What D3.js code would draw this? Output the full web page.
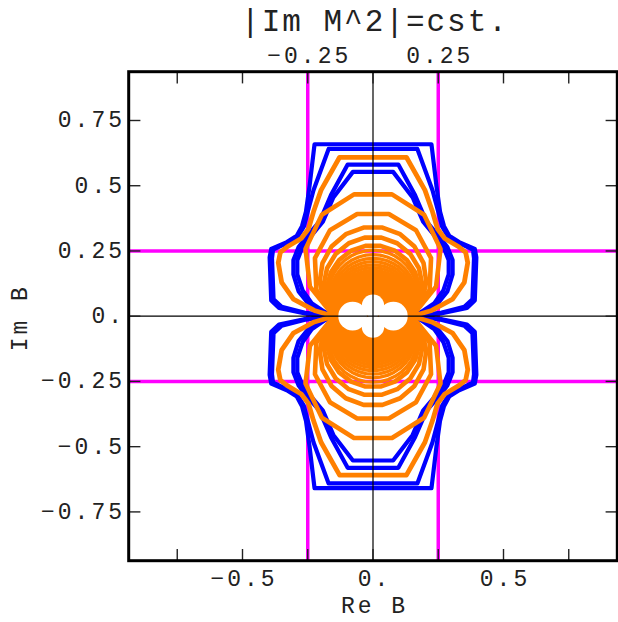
<!DOCTYPE html>
<html><head><meta charset="utf-8">
<script src="https://cdn.jsdelivr.net/npm/d3@7"></script>
<style>body{margin:0;background:#fff}svg{display:block}</style>
</head><body>
<script>
// ---------- data ----------
const xTicks = [-0.75, -0.5, -0.25, 0, 0.25, 0.5, 0.75];
const yTicks = [-0.75, -0.5, -0.25, 0, 0.25, 0.5, 0.75];
const bottomLabels = [[-0.5, "−0.5"], [0, "0."], [0.5, "0.5"]];
const leftLabels = [[0.75, "0.75"], [0.5, "0.5"], [0.25, "0.25"], [0, "0."], [-0.25, "−0.25"], [-0.5, "−0.5"], [-0.75, "−0.75"]];
const topLabels = [[-0.25, "−0.25"], [0.25, "0.25"]];
const magentaX = [-0.25, 0.25];
const magentaY = [-0.25, 0.25];

// contours, upper-right quadrant (Re B >= 0, Im B >= 0), from the Im axis to the meeting point on the Re axis
const blueB1 = [[0,0.659],[0.224,0.659],[0.243,0.50],[0.257,0.40],[0.272,0.345],[0.292,0.308],[0.33,0.284],[0.39,0.258],[0.396,0.225],[0.39,0.06],[0.36,0.032],[0.26,0.011],[0.15,0]];
const blueB2 = [[0,0.641],[0.17,0.641],[0.228,0.483],[0.25,0.40],[0.265,0.343],[0.288,0.305],[0.33,0.28],[0.383,0.255],[0.387,0.222],[0.381,0.065],[0.35,0.036],[0.26,0.013],[0.15,0]];
const blueB3 = [[0,0.581],[0.097,0.581],[0.161,0.464],[0.205,0.362],[0.25,0.31],[0.285,0.265],[0.305,0.215],[0.305,0.16],[0.285,0.095],[0.245,0.045],[0.19,0.014],[0.15,0]];
const blueB4 = [[0,0.553],[0.077,0.553],[0.152,0.455],[0.192,0.362],[0.237,0.308],[0.27,0.265],[0.29,0.215],[0.29,0.16],[0.27,0.10],[0.235,0.05],[0.185,0.016],[0.15,0]];
const orangeO1 = [[0,0.609],[0.128,0.609],[0.199,0.483],[0.228,0.40],[0.247,0.335],[0.275,0.298],[0.33,0.265],[0.355,0.245],[0.363,0.205],[0.35,0.13],[0.305,0.065],[0.225,0.022],[0.15,0]];
const blueContours = [blueB1, blueB2, blueB3, blueB4];
const orangeContours = [orangeO1];
// inner orange contours: height on the Im axis; they all pass through (±meetX, 0)
const outerInnerTops = [0.477, 0.40, 0.343, 0.304, 0.272];
const denseTops = [0.253, 0.236, 0.222, 0.209, 0.197, 0.186];
const meetX = 0.15;
const coreTop = 0.178;
// white hole in the middle: circles [Re, Im, radius]
const holeCircles = [[-0.078, 0, 0.055], [0.078, 0, 0.055], [0, 0.04, 0.043], [0, -0.04, 0.043]];

// ---------- layout ----------
const W = 618, H = 622;
const x = d3.scaleLinear().domain([-0.936, 0.936]).range([128.7, 617.3]);
const y = d3.scaleLinear().domain([-0.937, 0.937]).range([560.7, 71.7]);
const font = "'Liberation Mono','Courier New',monospace";
const BLUE = "#0000ff", ORANGE = "#ff8000", MAGENTA = "#ff00ff";

const svg = d3.select("body").append("svg").attr("width", W).attr("height", H);
svg.append("rect").attr("width", W).attr("height", H).attr("fill", "#fff");

const clipId = "plotclip";
svg.append("clipPath").attr("id", clipId).append("rect")
  .attr("x", x(-0.936)).attr("y", y(0.937)).attr("width", x(0.936) - x(-0.936)).attr("height", y(-0.937) - y(0.937));
const plot = svg.append("g").attr("clip-path", `url(#${clipId})`);

// magenta lines
plot.selectAll(".mx").data(magentaX).join("line")
  .attr("x1", d => x(d)).attr("x2", d => x(d)).attr("y1", y(0.937)).attr("y2", y(-0.937))
  .attr("stroke", MAGENTA).attr("stroke-width", 3.5);
plot.selectAll(".my").data(magentaY).join("line")
  .attr("y1", d => y(d)).attr("y2", d => y(d)).attr("x1", x(-0.936)).attr("x2", x(0.936))
  .attr("stroke", MAGENTA).attr("stroke-width", 3.5);

// build a closed, 4-fold symmetric contour from its upper-right quadrant
function fullShape(q) {
  const ur = q.map(p => [p[0], p[1]]);
  const lr = q.slice().reverse().map(p => [p[0], -p[1]]);
  const ll = q.map(p => [-p[0], -p[1]]);
  const ul = q.slice().reverse().map(p => [-p[0], p[1]]);
  return ur.concat(lr.slice(1), ll.slice(1), ul.slice(1));
}
const line = d3.line().x(d => x(d[0])).y(d => y(d[1])).curve(d3.curveLinearClosed);

// circle arc through (0, top) and (±meetX, 0), upper half, as a polygon; mirrored below
function innerShape(top, n) {
  const c = (top * top - meetX * meetX) / (2 * top);
  const r = top - c;
  const a0 = Math.atan2(-c, meetX);
  const a1 = Math.PI - a0;
  const up = d3.range(n + 1).map(i => {
    const a = a0 + (a1 - a0) * i / n;
    return [r * Math.cos(a), c + r * Math.sin(a)];
  });
  const down = up.slice(1, n).reverse().map(p => [p[0], -p[1]]);
  return up.concat(down);
}

plot.selectAll(".blue").data(blueContours).join("path")
  .attr("d", d => line(fullShape(d)))
  .attr("fill", "none").attr("stroke", BLUE).attr("stroke-width", 4.2).attr("stroke-linejoin", "round");

// core fill
plot.append("path").attr("d", line(innerShape(coreTop, 40)))
  .attr("fill", ORANGE).attr("stroke", ORANGE).attr("stroke-width", 2);

plot.selectAll(".dense").data(denseTops).join("path")
  .attr("d", d => line(innerShape(d, 24)))
  .attr("fill", "none").attr("stroke", ORANGE).attr("stroke-width", 3.3).attr("stroke-linejoin", "round");

plot.selectAll(".inner").data(outerInnerTops).join("path")
  .attr("d", d => line(innerShape(d, d >= 0.39 ? 9 : 13)))
  .attr("fill", "none").attr("stroke", ORANGE).attr("stroke-width", 4.6).attr("stroke-linejoin", "round");

plot.selectAll(".orange").data(orangeContours).join("path")
  .attr("d", d => line(fullShape(d)))
  .attr("fill", "none").attr("stroke", ORANGE).attr("stroke-width", 4.8).attr("stroke-linejoin", "round");

// white hole
plot.selectAll(".hole").data(holeCircles).join("circle")
  .attr("cx", d => x(d[0])).attr("cy", d => y(d[1])).attr("r", d => x(d[2]) - x(0))
  .attr("fill", "#fff");

// axes through origin
plot.append("line").attr("x1", x(0)).attr("x2", x(0)).attr("y1", y(0.937)).attr("y2", y(-0.937))
  .attr("stroke", "#000").attr("stroke-width", 1.2);
plot.append("line").attr("y1", y(0)).attr("y2", y(0)).attr("x1", x(-0.936)).attr("x2", x(0.936))
  .attr("stroke", "#000").attr("stroke-width", 1.2);

// ticks (inward) on all four sides
const tk = svg.append("g").attr("stroke", "#222").attr("stroke-width", 1.4);
const L = 11.7;
tk.selectAll(".tb").data(xTicks).join("line")
  .attr("x1", d => x(d)).attr("x2", d => x(d)).attr("y1", y(-0.937)).attr("y2", y(-0.937) - L);
tk.selectAll(".tt").data(xTicks).join("line")
  .attr("x1", d => x(d)).attr("x2", d => x(d)).attr("y1", y(0.937)).attr("y2", y(0.937) + L);
tk.selectAll(".tl").data(yTicks).join("line")
  .attr("y1", d => y(d)).attr("y2", d => y(d)).attr("x1", x(-0.936)).attr("x2", x(-0.936) + L);
tk.selectAll(".tr").data(yTicks).join("line")
  .attr("y1", d => y(d)).attr("y2", d => y(d)).attr("x1", x(0.936)).attr("x2", x(0.936) - L);

// frame
svg.append("rect").attr("x", x(-0.936)).attr("y", y(0.937))
  .attr("width", x(0.936) - x(-0.936)).attr("height", y(-0.937) - y(0.937))
  .attr("fill", "none").attr("stroke", "#000").attr("stroke-width", 3);

// labels
const txt = svg.append("g").attr("font-family", font).attr("fill", "#222");
const FS = 23, LS = 3;
txt.selectAll(".bl").data(bottomLabels).join("text")
  .attr("x", d => x(d[0]) + LS / 2).attr("y", 586).attr("text-anchor", "middle")
  .attr("font-size", FS).attr("letter-spacing", LS).text(d => d[1]);
txt.selectAll(".ll").data(leftLabels).join("text")
  .attr("x", 122 + LS).attr("y", d => y(d[0]) + 7).attr("text-anchor", "end")
  .attr("font-size", FS).attr("letter-spacing", LS).text(d => d[1]);
txt.selectAll(".tl").data(topLabels).join("text")
  .attr("x", d => x(d[0]) + LS / 2).attr("y", 63).attr("text-anchor", "middle")
  .attr("font-size", FS).attr("letter-spacing", LS).text(d => d[1]);
txt.append("text").attr("x", 374 + 1).attr("y", 31).attr("text-anchor", "middle")
  .attr("font-size", 31).attr("letter-spacing", 2).text("|Im M^2|=cst.");
txt.append("text").attr("x", 373 + LS / 2).attr("y", 613).attr("text-anchor", "middle")
  .attr("font-size", FS).attr("letter-spacing", LS).text("Re B");
txt.append("text").attr("transform", `translate(27,${y(0) + LS / 2}) rotate(-90)`).attr("text-anchor", "middle")
  .attr("font-size", FS).attr("letter-spacing", LS).text("Im B");
</script>
</body></html>
